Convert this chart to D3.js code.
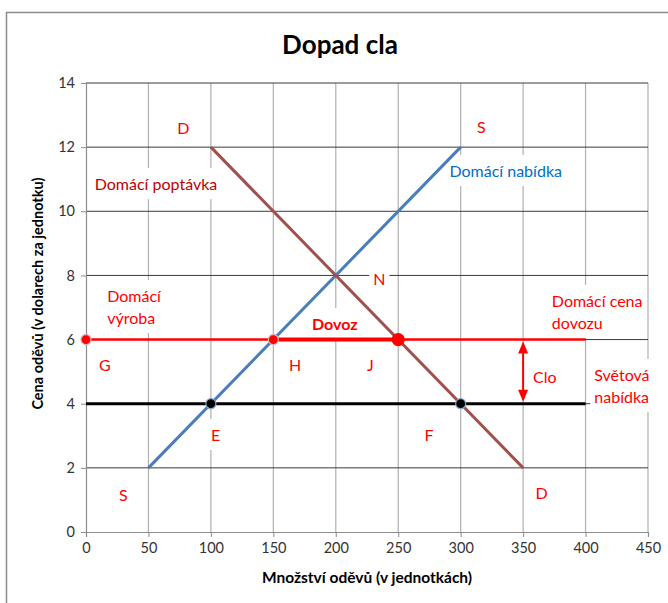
<!DOCTYPE html>
<html lang="cs">
<head>
<meta charset="UTF-8">
<title>Dopad cla</title>
<style>
  body { margin: 0; background: #fff; }
  text { font-family: Lato, "Open Sans", sans-serif; }
</style>
<script src="https://d3js.org/d3.v7.min.js"></script>
</head>
<body>
<script>
const width = 668;
const height = 603;

// data
const xTicks = [0, 50, 100, 150, 200, 250, 300, 350, 400, 450];
const yTicks = [0, 2, 4, 6, 8, 10, 12, 14];
const supplyQ = [50, 300];   // domaci nabidka
const supplyP = [2, 12];
const demandQ = [100, 350];  // domaci poptavka
const demandP = [12, 2];
const worldPrice = 4;
const tariffPrice = 6;
const lineEndQ = 400;
const worldPoints = [100, 300];   // E, F body
const tariffPoints = [0, 150, 250];
const importQ = [150, 250];
const tariffArrowQ = 350;

// texty v grafu: [radky, q, p, barva, tucne]
const labels = [
  [["D"], 73, 12.41, "#ff0000", false],
  [["S"], 313, 12.44, "#ff0000", false],
  [["Domácí poptávka"], 7, 10.66, "#c00000", false],
  [["Domácí nabídka"], 291, 11.07, "#0070c0", false],
  [["N"], 230, 7.7, "#ff0000", false],
  [["Domácí", "výroba"], 17, 7.17, "#ff0000", false],
  [["Dovoz"], 181, 6.3, "#ff0000", true],
  [["Domácí cena", "dovozu"], 373, 7.02, "#ff0000", false],
  [["G"], 10.4, 5.02, "#ff0000", false],
  [["H"], 162.5, 5.02, "#ff0000", false],
  [["J"], 225, 5.02, "#ff0000", false],
  [["Clo"], 358, 4.65, "#ff0000", false],
  [["Světová", "nabídka"], 407, 4.71, "#ff0000", false],
  [["E"], 100, 2.84, "#ff0000", false],
  [["F"], 271, 2.84, "#ff0000", false],
  [["S"], 26.5, 0.97, "#ff0000", false],
  [["D"], 360, 1.03, "#ff0000", false]
];

const svg = d3.select("body").append("svg")
  .attr("width", width)
  .attr("height", height);

// ramecek
svg.append("rect")
  .attr("x", 6.5).attr("y", 12.5)
  .attr("width", 700).attr("height", 650)
  .attr("fill", "none").attr("stroke", "#8c8c8c").attr("stroke-width", 1.5);

const x = d3.scaleLinear().domain([0, 450]).range([86, 648]);
const y = d3.scaleLinear().domain([0, 14]).range([532, 83]);

svg.append("text")
  .attr("x", 340).attr("y", 54)
  .attr("text-anchor", "middle")
  .attr("font-size", 26).attr("font-weight", "bold")
  .text("Dopad cla");

// mrizka
svg.append("g").selectAll("line")
  .data(xTicks.slice(1))
  .join("line")
  .attr("x1", d => x(d)).attr("x2", d => x(d))
  .attr("y1", y(14)).attr("y2", y(0))
  .attr("stroke", "#b0b0b0").attr("stroke-width", 1.2);

svg.append("g").selectAll("line")
  .data(yTicks.slice(1))
  .join("line")
  .attr("x1", x(0)).attr("x2", x(450))
  .attr("y1", d => y(d)).attr("y2", d => y(d))
  .attr("stroke", "#3a3a3a").attr("stroke-width", 1);

// osy
const xAxis = svg.append("g")
  .attr("transform", `translate(0,${y(0)})`)
  .call(d3.axisBottom(x).tickValues(xTicks).tickSize(5).tickPadding(6));
const yAxis = svg.append("g")
  .attr("transform", `translate(${x(0)},0)`)
  .call(d3.axisLeft(y).tickValues(yTicks).tickSize(5).tickPadding(6));
[xAxis, yAxis].forEach(g => {
  g.select(".domain").attr("stroke", "#8c8c8c").attr("stroke-width", 1.2);
  g.selectAll(".tick line").attr("stroke", "#8c8c8c");
  g.selectAll("text").attr("font-size", 14.5).attr("fill", "#333")
    .attr("font-family", "Lato, 'Open Sans', sans-serif");
});

svg.append("text")
  .attr("x", 367).attr("y", 583)
  .attr("text-anchor", "middle")
  .attr("font-size", 15.5).attr("font-weight", "bold")
  .text("Množství oděvů (v jednotkách)");

svg.append("text")
  .attr("transform", `translate(43,${(y(0) + y(14)) / 2 - 14}) rotate(-90)`)
  .attr("text-anchor", "middle")
  .attr("font-size", 14.5).attr("font-weight", "bold")
  .text("Cena oděvů  (v dolarech za jednotku)");

// popisky s bilym pozadim: nejdriv vsechny boxy, pak texty
const boxG = svg.append("g");
const labelG = svg.append("g");
labels.forEach(([lines, q, p, color, bold]) => {
  const t = labelG.append("text")
    .attr("x", x(q)).attr("y", y(p))
    .attr("font-size", 16).attr("fill", color)
    .attr("font-weight", bold ? "bold" : "normal");
  lines.forEach((s, i) => {
    t.append("tspan").attr("x", x(q)).attr("dy", i === 0 ? 0 : 22).text(s);
  });
  const b = t.node().getBBox();
  boxG.append("rect")
    .attr("x", b.x - 4).attr("y", b.y - 6)
    .attr("width", b.width + 8).attr("height", b.height + 12)
    .attr("fill", "#fff");
});

const line = d3.line().x(d => x(d[0])).y(d => y(d[1]));
const marks = svg.append("g");

// svetova nabidka
marks.append("path")
  .attr("d", line([[0, worldPrice], [lineEndQ, worldPrice]]))
  .attr("stroke", "#000").attr("stroke-width", 3).attr("fill", "none");

// domaci cena dovozu
marks.append("path")
  .attr("d", line([[0, tariffPrice], [lineEndQ, tariffPrice]]))
  .attr("stroke", "#ff0000").attr("stroke-width", 2.5).attr("fill", "none");
marks.append("path")
  .attr("d", line(importQ.map(q => [q, tariffPrice])))
  .attr("stroke", "#ff0000").attr("stroke-width", 4).attr("fill", "none");

// nabidka a poptavka
marks.append("path")
  .attr("d", line(supplyQ.map((q, i) => [q, supplyP[i]])))
  .attr("stroke", "#4a7ebb").attr("stroke-width", 3).attr("fill", "none");
marks.append("path")
  .attr("d", line(demandQ.map((q, i) => [q, demandP[i]])))
  .attr("stroke", "#a0504d").attr("stroke-width", 3).attr("fill", "none");

// body
marks.append("g").selectAll("circle")
  .data(worldPoints)
  .join("circle")
  .attr("cx", d => x(d)).attr("cy", y(worldPrice)).attr("r", 5)
  .attr("fill", "#000").attr("stroke", "#8aa4c8").attr("stroke-width", 1.2);

marks.append("g").selectAll("circle")
  .data(tariffPoints)
  .join("circle")
  .attr("cx", d => x(d)).attr("cy", y(tariffPrice))
  .attr("r", (d, i) => i === 2 ? 6 : 5)
  .attr("fill", "#ff0000").attr("stroke", (d, i) => i === 2 ? "#ff0000" : "#d8b0b0")
  .attr("stroke-width", 1.2);

// sipka clo
const ax = x(tariffArrowQ);
marks.append("line")
  .attr("x1", ax).attr("x2", ax)
  .attr("y1", y(tariffPrice) + 4).attr("y2", y(worldPrice) - 4)
  .attr("stroke", "#ff0000").attr("stroke-width", 2);
[[tariffPrice, 1], [worldPrice, -1]].forEach(([p, dir]) => {
  const yy = y(p) + dir * 2;
  marks.append("path")
    .attr("d", `M${ax},${yy} L${ax - 5},${yy + dir * 12} L${ax + 5},${yy + dir * 12} Z`)
    .attr("fill", "#ff0000");
});

labelG.raise();
</script>
</body>
</html>
